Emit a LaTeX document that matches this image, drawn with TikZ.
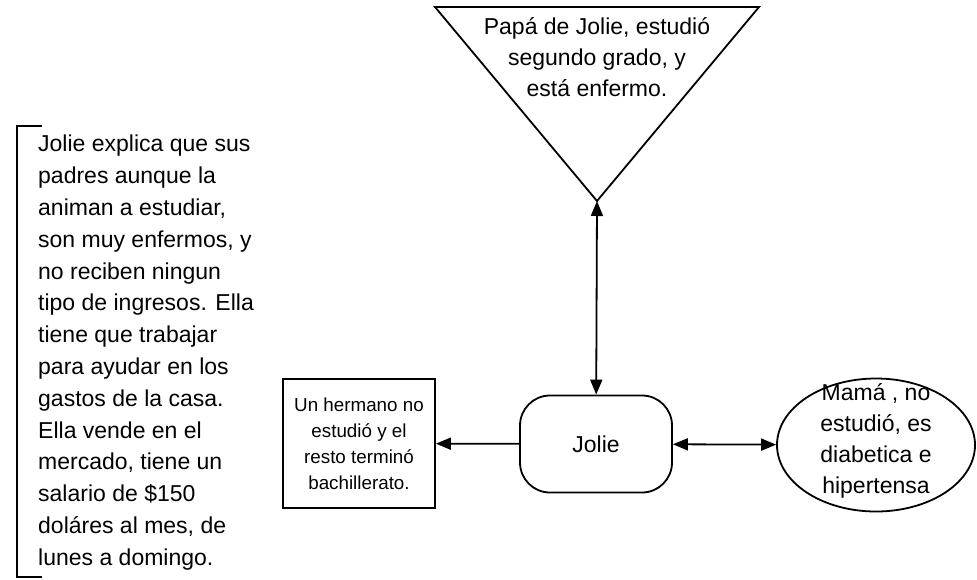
\documentclass[tikz,border=0pt]{standalone}
\usepackage{fontspec}
\setmainfont{Liberation Sans}
\usetikzlibrary{arrows.meta,shapes.geometric}

\begin{document}
\begin{tikzpicture}[x=1pt, y=-1pt,
    every node/.style={font=\fontsize{23}{31}\selectfont, align=center, inner sep=0pt},
    edge/.style={line width=1.8pt},
    link/.style={edge, -{Triangle[length=15pt, width=12pt]}},
    twolink/.style={edge, {Triangle[length=15pt, width=12pt]}-{Triangle[length=15pt, width=12pt]}}]
    \useasboundingbox (0,0) rectangle (977,579);

    % Define the corners of the triangle (father)
    \coordinate (T1) at (435,7);
    \coordinate (T2) at (759,7);
    \coordinate (papa) at (597,201);

    % Draw the triangle and its text
    \draw[edge] (T1) -- (T2) -- (papa) -- cycle;
    \node (papatext) at (597,57) {Papá de Jolie, estudió\\segundo grado, y\\está enfermo.};

    % Jolie in the middle
    \node[draw, edge, rounded corners=30pt, minimum width=152pt, minimum height=97pt] (jolie) at (596,444) {Jolie};

    % Brother box on the left
    \node[draw, edge, minimum width=152pt, minimum height=129pt, font=\fontsize{18.8}{26}\selectfont] (hermano) at (359,443.5) {Un hermano no\\estudió y el\\resto terminó\\bachillerato.};

    % Mother ellipse on the right
    \node[draw, edge, ellipse, minimum width=198pt, minimum height=133pt] (mama) at (876,445) {};
    \node (mamatext) at (876,441) {Mamá , no\\estudió, es\\diabetica e\\hipertensa};

    % Story text with a bracket
    \node[anchor=north west, align=left, font=\fontsize{23}{31.8}\selectfont] (relato) at (38,135) {Jolie explica que sus\\padres aunque la\\animan a estudiar,\\son muy enfermos, y\\no reciben ningun\\tipo de ingresos. Ella\\tiene que trabajar\\para ayudar en los\\gastos de la casa.\\Ella vende en el\\mercado, tiene un\\salario de \$150\\doláres al mes, de\\lunes a domingo.};
    \draw[edge] (42,126) -- (17,126) -- (17,577) -- (42,577);

    % Connectors
    \draw[twolink] (papa) -- (jolie);
    \draw[link] (jolie) -- (hermano);
    \draw[twolink] (jolie) -- (mama);
\end{tikzpicture}
\end{document}
